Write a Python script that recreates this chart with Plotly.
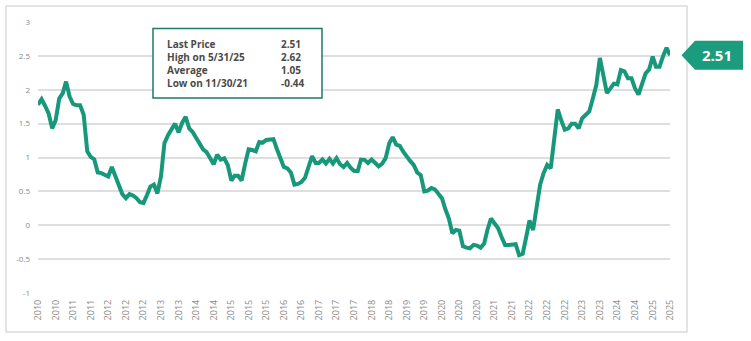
import plotly.graph_objects as go
import pandas as pd

# Monthly month-end values, Jun 2010 .. Jun 2025
values = [
    1.78, 1.86, 1.76, 1.65, 1.43, 1.55, 1.87, 1.95, 2.12, 1.90,
    1.79, 1.77, 1.77, 1.63, 1.09, 1.01, 0.97, 0.78, 0.77, 0.74,
    0.72, 0.86, 0.73, 0.60, 0.46, 0.40, 0.46, 0.44, 0.40, 0.34,
    0.33, 0.45, 0.57, 0.60, 0.47, 0.72, 1.21, 1.33, 1.43, 1.50,
    1.37, 1.51, 1.60, 1.43, 1.38, 1.30, 1.20, 1.12, 1.08, 0.98,
    0.90, 1.04, 0.97, 0.99, 0.89, 0.66, 0.73, 0.73, 0.66, 0.91,
    1.12, 1.11, 1.09, 1.23, 1.22, 1.26, 1.26, 1.27, 1.13, 1.01,
    0.86, 0.84, 0.78, 0.60, 0.61, 0.64, 0.70, 0.86, 1.02, 0.92,
    0.92, 0.97, 0.91, 0.98, 0.91, 0.99, 0.90, 0.86, 0.92, 0.85,
    0.80, 0.80, 0.97, 0.965, 0.92, 0.97, 0.91, 0.87, 0.91, 0.99,
    1.21, 1.30, 1.19, 1.17, 1.09, 1.01, 0.95, 0.89, 0.78, 0.74,
    0.50, 0.51, 0.55, 0.53, 0.47, 0.40, 0.24, 0.10, -0.12, -0.07,
    -0.08, -0.31, -0.33, -0.34, -0.29, -0.30, -0.33, -0.27, -0.07, 0.10,
    0.03, -0.04, -0.17, -0.29, -0.29, -0.29, -0.28, -0.44, -0.42, -0.17,
    0.07, -0.07, 0.27, 0.60, 0.77, 0.89, 0.84, 1.26, 1.71, 1.55,
    1.41, 1.43, 1.50, 1.50, 1.43, 1.58, 1.63, 1.68, 1.87, 2.07,
    2.47, 2.22, 1.95, 2.02, 2.09, 2.08, 2.29, 2.27, 2.17, 2.17,
    2.02, 1.93, 2.07, 2.24, 2.30, 2.49, 2.34, 2.34, 2.49, 2.62,
    2.51,
]
dates = pd.date_range("2010-06-30", periods=len(values), freq="ME")

stat_labels = ["Last Price", "High on 5/31/25", "Average", "Low on 11/30/21"]
stat_values = ["2.51", "2.62", "1.05", "-0.44"]
last_value = values[-1]

y_ticks = [3, 2.5, 2, 1.5, 1, 0.5, 0, -0.5, -1]
y_ticktext = ["3", "2.5", "2", "1.5", "1", "0.5", "0", "-0.5", "-1"]
x_tickvals = list(dates[::5])
x_ticktext = [str(d.year) for d in x_tickvals]

GREEN = "#17987a"
W, H = 751, 341
L, R, T, B = 38, 81, 22, 48
PW, PH = W - L - R, H - T - B

def px(x):
    return (x - L) / PW

def py(y):
    return (H - B - y) / PH

fig = go.Figure()
fig.add_trace(go.Scatter(
    x=dates, y=values, mode="lines",
    line=dict(color=GREEN, width=4),
    hoverinfo="x+y", showlegend=False,
))

shapes = [
    # outer frame
    dict(type="rect", xref="paper", yref="paper",
         x0=px(6), x1=px(687), y0=py(332), y1=py(6),
         line=dict(color="#dcdcdc", width=1.5), layer="below"),
    # stats box
    dict(type="rect", xref="paper", yref="paper",
         x0=px(153), x1=px(322), y0=py(98), y1=py(28.5),
         line=dict(color="#1f7a68", width=1.5), fillcolor="white"),
]
# last price tag
ht = 14.5 / (PH / 4.0)
tip_x, shoulder_x, right_x = px(681.5), px(695), px(743)
shapes.append(dict(
    type="path", xref="paper", yref="y",
    path=(f"M {tip_x} {last_value} L {shoulder_x} {last_value + ht} "
          f"L {right_x} {last_value + ht} L {right_x} {last_value - ht} "
          f"L {shoulder_x} {last_value - ht} Z"),
    fillcolor="#1a9c7d", line=dict(width=0),
))

annotations = []
row_y = [44, 57, 70, 83]
for lab, val, yy in zip(stat_labels, stat_values, row_y):
    annotations.append(dict(
        xref="paper", yref="paper", x=px(165), y=py(yy), xanchor="left", yanchor="middle",
        text=f"<b>{lab}</b>", showarrow=False,
        font=dict(family="Open Sans", size=10, color="#4a4a4a")))
    annotations.append(dict(
        xref="paper", yref="paper", x=px(279), y=py(yy), xanchor="left", yanchor="middle",
        text=f"<b>{val}</b>", showarrow=False,
        font=dict(family="Open Sans", size=10, color="#4a4a4a")))
annotations.append(dict(
    xref="paper", yref="y", x=(shoulder_x + right_x) / 2 - 0.003, y=last_value,
    xanchor="center", yanchor="middle", text=f"<b>{last_value:.2f}</b>", showarrow=False,
    font=dict(family="Open Sans", size=15, color="white")))

fig.update_layout(
    width=W, height=H,
    margin=dict(l=L, r=R, t=T, b=B, pad=0),
    paper_bgcolor="white", plot_bgcolor="white",
    shapes=shapes, annotations=annotations,
    font=dict(family="Open Sans", color="#8a8a8a"),
)
fig.update_xaxes(
    range=[dates[0], dates[-1]],
    tickmode="array", tickvals=x_tickvals, ticktext=x_ticktext,
    tickangle=-90, tickfont=dict(size=9, color="#8a8a8a", family="Open Sans"),
    showgrid=False, zeroline=False, showline=False, ticks="",
    ticklabelstandoff=4,
)
fig.update_yaxes(
    range=[-1, 3],
    tickmode="array", tickvals=y_ticks, ticktext=y_ticktext,
    tickfont=dict(size=8, color="#8a8a8a", family="Open Sans"),
    showgrid=True, gridcolor="#dedede", gridwidth=1.5,
    zeroline=False, showline=False, ticks="",
    ticklabelstandoff=7,
)

fig.write_html("out.html")
